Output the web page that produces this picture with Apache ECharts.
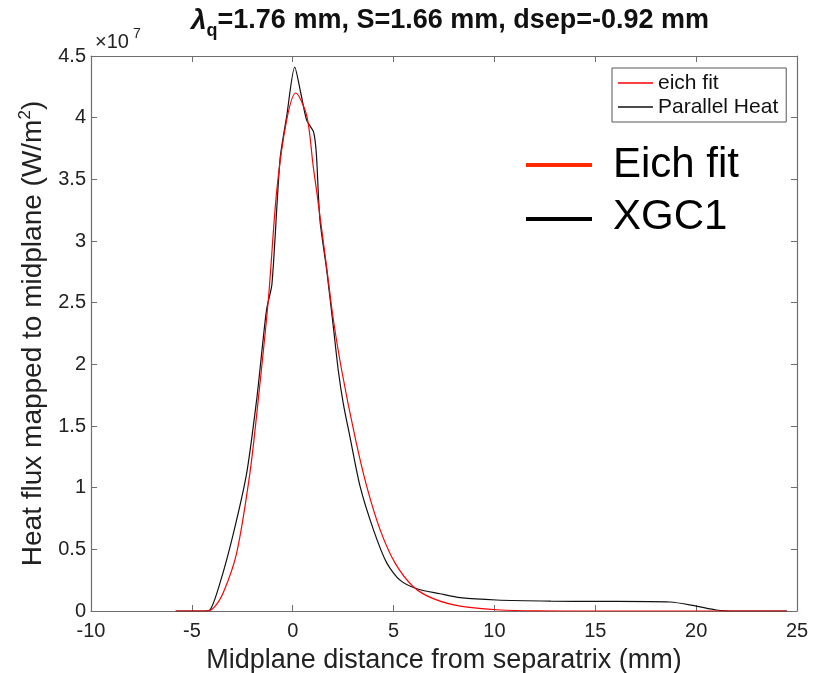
<!DOCTYPE html>
<html><head><meta charset="utf-8">
<script src="https://cdn.jsdelivr.net/npm/echarts@6/dist/echarts.min.js"></script>
<style>html,body{margin:0;padding:0;background:#fff}#c{width:816px;height:673px}</style>
</head><body><div id="c"></div>
<script>
// x in mm, y in units of 1e7 W/m^2
const xgc1 = [[-5.8,0],[-4.5,0],[-4.1,0.01],[-3.6,0.23],[-2.94,0.63],[-2.28,1.12],[-1.79,1.71],[-1.5,2.15],[-1.29,2.45],[-1.03,2.65],[-0.63,3.66],[-0.3,4.01],[0.1,4.41],[0.4,4.2],[0.69,3.98],[1.02,3.89],[1.12,3.8],[1.19,3.66],[1.35,3.17],[1.68,2.77],[2.01,2.31],[2.26,1.95],[2.51,1.68],[2.84,1.41],[3.34,1.01],[4.0,0.66],[4.66,0.39],[5.32,0.25],[6.15,0.18],[7.3,0.14],[8.3,0.108],[10.1,0.089],[12.8,0.08],[15.2,0.078],[18.7,0.073],[20.0,0.04],[21.0,0.008],[22.0,0],[24.5,0]];
const eich = [[-5.8,0],[-4.3,0],[-3.9,0.03],[-3.44,0.15],[-2.78,0.47],[-2.12,1.12],[-1.71,1.71],[-1.21,2.52],[-0.79,3.41],[-0.3,3.98],[0.15,4.2],[0.69,4.02],[1.02,3.6],[1.19,3.4],[1.68,2.79],[2.0,2.38],[2.43,1.95],[3.09,1.41],[3.67,1.01],[4.33,0.66],[5.07,0.39],[5.98,0.197],[6.97,0.1],[8.3,0.04],[10.3,0.008],[12,0.001],[15,0],[24.5,0]];
const xRange = [-10, 25, 5];
const yRange = [0, 4.5, 0.5];
const seriesNames = ['eich fit', 'Parallel Heat'];
const annotNames = ['Eich fit', 'XGC1'];

const axisColor = '#6e6e6e';
const font = 'Liberation Sans, Arial, Helvetica, sans-serif';
function axisBase(extra){
  return Object.assign({
    axisLine:{show:true,onZero:false,lineStyle:{color:axisColor,width:1.2}},
    axisTick:{show:true,inside:true,length:6,lineStyle:{color:axisColor}},
    splitLine:{show:false}
  }, extra);
}
const chart = echarts.init(document.getElementById('c'));
chart.setOption({
  animation:false,
  backgroundColor:'#fff',
  title:{
    left:186, top:-3,
    text:'{l|λ}{s|q}{n|=1.76 mm, S=1.66 mm, dsep=-0.92 mm}',
    textStyle:{rich:{
      l:{fontFamily:font,fontSize:28,fontStyle:'italic',lineHeight:38,color:'#111'},
      s:{fontFamily:font,fontSize:18,fontWeight:'bold',lineHeight:19,verticalAlign:'bottom',color:'#111'},
      n:{fontFamily:font,fontSize:27,fontWeight:'bold',lineHeight:38,color:'#111'}
    }}
  },
  grid:{left:91,right:19,top:56,bottom:62,show:false,containLabel:false,outerBoundsMode:'none'},
  legend:{
    data:seriesNames, orient:'vertical', left:612, top:68,
    icon:'rect', itemWidth:35, itemHeight:1.5, itemGap:2,
    padding:[4,8,4,6], borderColor:'#555', borderWidth:1, backgroundColor:'#fff',
    textStyle:{fontFamily:font,fontSize:21,color:'#111',lineHeight:22}
  },
  xAxis:[
    axisBase({type:'value',min:xRange[0],max:xRange[1],interval:xRange[2],position:'bottom',
      name:'Midplane distance from separatrix (mm)',nameLocation:'middle',nameGap:36,
      nameTextStyle:{fontFamily:font,fontSize:27,color:'#222'},
      axisLabel:{fontFamily:font,fontSize:20,color:'#222',margin:10}}),
    axisBase({type:'value',min:xRange[0],max:xRange[1],interval:xRange[2],position:'top',axisLabel:{show:false}})
  ],
  yAxis:[
    axisBase({type:'value',min:yRange[0],max:yRange[1],interval:yRange[2],position:'left',
      name:'{n|Heat flux mapped to midplane (W/m}{sup|2}{n|)}',nameLocation:'middle',nameGap:40,
      nameTextStyle:{rich:{
        n:{fontFamily:font,fontSize:28,color:'#222',lineHeight:32},
        sup:{fontFamily:font,fontSize:17,color:'#222',lineHeight:17,verticalAlign:'top'}
      }},
      axisLabel:{fontFamily:font,fontSize:20,color:'#222',margin:5}}),
    axisBase({type:'value',min:yRange[0],max:yRange[1],interval:yRange[2],position:'right',axisLabel:{show:false}})
  ],
  series:[
    {name:seriesNames[0],type:'line',data:eich,showSymbol:false,smooth:0.3,
      lineStyle:{color:'#ff0000',width:1.2},itemStyle:{color:'#ff0000'},z:3},
    {name:seriesNames[1],type:'line',data:xgc1,showSymbol:false,smooth:0.25,
      lineStyle:{color:'#111',width:1.2},itemStyle:{color:'#111'},z:2}
  ],
  graphic:[
    {type:'text',left:95,top:32,style:{text:'×10',font:'20px '+font,fill:'#222'}},
    {type:'text',left:133,top:27,style:{text:'7',font:'14px '+font,fill:'#222'}},
    {type:'line',shape:{x1:526,y1:165,x2:592,y2:165},style:{stroke:'#ff2a00',lineWidth:4}},
    {type:'text',left:613,top:144,style:{text:annotNames[0],font:'42px '+font,fill:'#000'}},
    {type:'line',shape:{x1:526,y1:219,x2:592,y2:219},style:{stroke:'#000',lineWidth:4}},
    {type:'text',left:613,top:196,style:{text:annotNames[1],font:'42px '+font,fill:'#000'}}
  ]
});
</script></body></html>
